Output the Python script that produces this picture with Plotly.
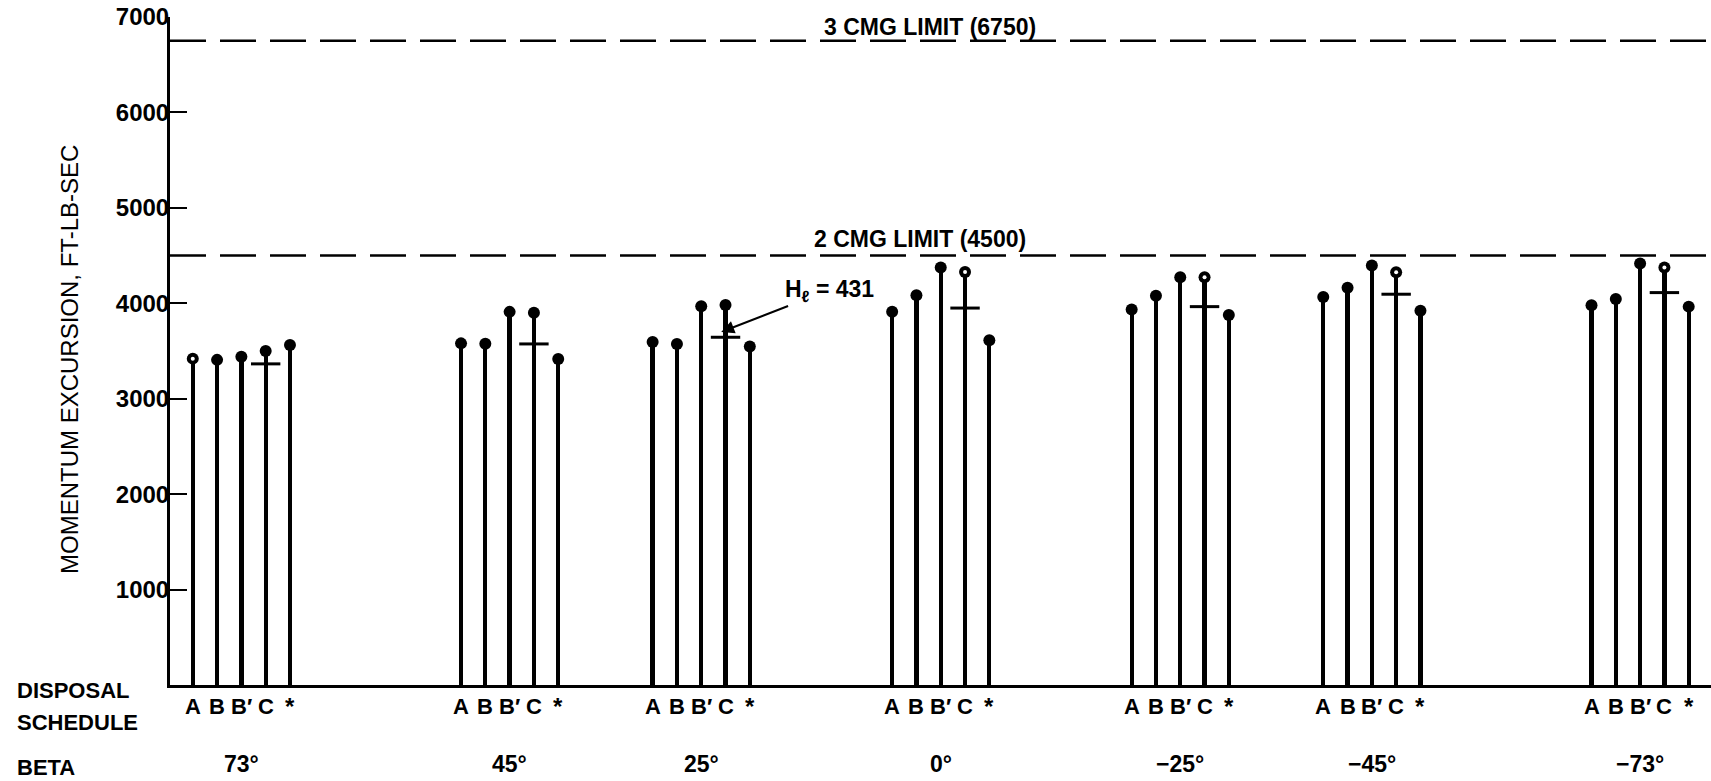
import plotly.graph_objects as go

# ---- data ----
beta = [73, 45, 25, 0, -25, -45, -73]
beta_labels = ["73°", "45°", "25°", "0°", "−25°", "−45°", "−73°"]
schedules = ["A", "B", "B′", "C", "*"]
val_A = [3420, 3580, 3595, 3912, 3935, 4066, 3980]
val_B = [3407, 3575, 3574, 4085, 4078, 4163, 4045]
val_Bp = [3440, 3910, 3968, 4374, 4273, 4395, 4418]
val_C = [3501, 3900, 3983, 4328, 4273, 4326, 4374]
val_star = [3564, 3417, 3546, 3612, 3878, 3922, 3965]
h_mark = [3365, 3574, 3644, 3950, 3965, 4095, 4112]   # cross marks on C stems
limit_2cmg = 4500
limit_3cmg = 6750
y_ticks = [1000, 2000, 3000, 4000, 5000, 6000, 7000]

series = [val_A, val_B, val_Bp, val_C, val_star]

# ---- layout constants ----
W, H = 1711, 781
L, R, T, B = 170, 0, 17, 96
PH = H - T - B
slot = 2.536  # spacing between schedules, in beta-degree units
FONT = "Liberation Sans, Arial, Helvetica, sans-serif"


def py(p):  # pixel y -> paper y
    return (H - B - p) / PH


def px(p):  # pixel x -> paper x
    return (p - L) / (W - L - R)


fig = go.Figure()

xs_all = []
for i, vals in enumerate(series):
    xs = [b + (2 - i) * slot for b in beta]
    xs_all.append(xs)
    fig.add_trace(go.Bar(x=xs, y=vals, width=0.45, marker=dict(color="black", line=dict(width=0)),
                         hoverinfo="skip"))
    fig.add_trace(go.Scatter(x=xs, y=vals, mode="markers",
                             marker=dict(symbol="circle", size=12, color="black"), hoverinfo="skip"))

# open (hollow-looking) circle tops
cx = xs_all[3]
fig.add_trace(go.Scatter(x=cx[3:], y=val_C[3:], mode="markers",
                         marker=dict(symbol="circle", size=4, color="white"), hoverinfo="skip"))
fig.add_trace(go.Scatter(x=[xs_all[0][0]], y=[val_A[0]], mode="markers",
                         marker=dict(symbol="circle", size=4, color="white"), hoverinfo="skip"))

# cross marks
fig.add_trace(go.Scatter(x=cx, y=h_mark, mode="markers",
                         marker=dict(symbol="line-ew", size=21, line=dict(width=3, color="black")),
                         hoverinfo="skip"))

shapes = []
for lim in (limit_2cmg, limit_3cmg):
    shapes.append(dict(type="line", xref="paper", x0=0, x1=1, yref="y", y0=lim, y1=lim,
                       line=dict(color="black", width=2.5, dash="36px,14px")))


def txt(text, x, y, size, xref="paper", xanchor="center", **kw):
    d = dict(text=text, x=x, xref=xref, xanchor=xanchor, yref="paper", y=y, yanchor="middle",
             showarrow=False, font=dict(size=size, family=FONT, color="black"))
    d.update(kw)
    return d


ann = []
ann.append(txt("<b>3 CMG LIMIT (6750)</b>", px(930), py(27), 23))
ann.append(txt("<b>2 CMG LIMIT (4500)</b>", px(920), py(239), 23))

# H_l annotation with arrow
tip_x = cx[2] + 0.45
tip_y = h_mark[2] + 55
ann.append(dict(text="<b>H<sub>ℓ</sub> = 431</b>", x=tip_x, y=tip_y, xref="x", yref="y",
                showarrow=True, ax=838 - 730, ay=290 - 332, axref="pixel", ayref="pixel",
                arrowhead=2, arrowsize=1.3, arrowwidth=2, arrowcolor="black",
                font=dict(size=23, family=FONT, color="black")))

# schedule letters under each stem, beta labels under each group
for g in range(len(beta)):
    for i, s in enumerate(schedules):
        size = 24 if s == "*" else 22
        ann.append(txt("<b>%s</b>" % s, xs_all[i][g], py(706), size, xref="x"))
    ann.append(txt("<b>%s</b>" % beta_labels[g], beta[g], py(764), 23, xref="x"))

for t, yy in (("DISPOSAL", 690), ("SCHEDULE", 722), ("BETA", 767)):
    ann.append(txt("<b>%s</b>" % t, px(15), py(yy), 22, xanchor="left"))

ann.append(txt("MOMENTUM EXCURSION, FT-LB-SEC", px(69), py(360), 24, textangle=-90))

fig.update_layout(
    width=W, height=H, margin=dict(l=L, r=R, t=T, b=B),
    paper_bgcolor="white", plot_bgcolor="white", showlegend=False,
    barmode="overlay", bargap=0,
    shapes=shapes, annotations=ann,
    xaxis=dict(range=[80.45, -80.4], showgrid=False, zeroline=False, showticklabels=False,
               ticks="", showline=True, linecolor="black", linewidth=3, fixedrange=True),
    yaxis=dict(range=[0, 7000], tickvals=y_ticks, ticktext=["<b>%d</b>" % v for v in y_ticks],
               ticks="inside", ticklen=17, tickwidth=2, tickcolor="black",
               showgrid=False, zeroline=False, showline=True, linecolor="black", linewidth=3,
               tickfont=dict(size=24, family=FONT, color="black"), ticklabelstandoff=-7,
               fixedrange=True),
)

fig.write_html("out.html", config={"displayModeBar": False},
               post_script="document.body.style.margin='0';document.body.style.overflow='hidden';")
